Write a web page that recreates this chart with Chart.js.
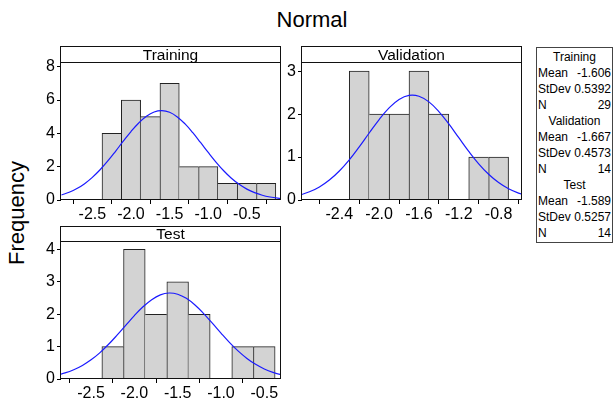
<!DOCTYPE html>
<html><head><meta charset="utf-8">
<script src="https://cdn.jsdelivr.net/npm/chart.js@4/dist/chart.umd.min.js"></script>
<style>
html,body{margin:0;padding:0;background:#fff;}
body{width:615px;height:403px;overflow:hidden;position:relative;font-family:"Liberation Sans",Arial,sans-serif;color:#000;}
canvas{position:absolute;}
#title{position:absolute;left:0;width:624px;top:7px;text-align:center;font-size:22px;line-height:26px;}
#ylab{position:absolute;left:17px;top:213px;transform:translate(-50%,-50%) rotate(-90deg);font-size:22px;line-height:26px;white-space:nowrap;}
#legend{position:absolute;left:536px;top:47px;width:75px;height:193px;border:1px solid #444;font-size:12px;padding-top:1px;}
#legend .h{height:16px;line-height:16px;text-align:center;}
#legend .r{height:16px;line-height:16px;display:flex;justify-content:space-between;padding:0 1px 0 1px;}
</style>
</head><body>
<div id="title">Normal</div>
<div id="ylab">Frequency</div>
<div id="legend"></div>
<canvas id="cTrain" style="left:20px;top:45px;" width="264" height="180"></canvas>
<canvas id="cVal" style="left:270px;top:45px;" width="255" height="180"></canvas>
<canvas id="cTest" style="left:20px;top:225px;" width="264" height="180"></canvas>
<script>
// ---- data ----
const groupNames = ['Training', 'Validation', 'Test'];
const groupMeans = [-1.606, -1.667, -1.589];
const groupStDevs = [0.5392, 0.4573, 0.5257];
const groupNs = [29, 14, 14];

const trainingBins = [-2.25, -2.0, -1.75, -1.5, -1.25, -1.0, -0.75, -0.5, -0.25];
const trainingCounts = [4, 6, 5, 7, 2, 2, 1, 1, 1];
const validationBins = [-2.2, -2.0, -1.8, -1.6, -1.4, -1.2, -1.0, -0.8];
const validationCounts = [3, 2, 2, 3, 2, 0, 1, 1];
const testBins = [-2.25, -2.0, -1.75, -1.5, -1.25, -1.0, -0.75, -0.5];
const testCounts = [1, 4, 2, 3, 2, 0, 1, 1];

const trainingCurveX = [-2.9,-2.8,-2.7,-2.6,-2.5,-2.4,-2.3,-2.2,-2.1,-2.0,-1.9,-1.8,-1.7,-1.6,-1.5,-1.4,-1.3,-1.2,-1.1,-1.0,-0.9,-0.8,-0.7,-0.6,-0.5,-0.4,-0.3,-0.2,-0.1,0.0];
const trainingCurveY = [0.301,0.462,0.685,0.981,1.357,1.814,2.343,2.924,3.526,4.107,4.623,5.028,5.283,5.364,5.262,4.986,4.566,4.040,3.453,2.852,2.276,1.755,1.307,0.941,0.654,0.440,0.285,0.179,0.108,0.064];
const validationCurveX = [-2.8,-2.7,-2.6,-2.5,-2.4,-2.3,-2.2,-2.1,-2.0,-1.9,-1.8,-1.7,-1.6,-1.5,-1.4,-1.3,-1.2,-1.1,-1.0,-0.9,-0.8,-0.7,-0.6,-0.5];
const validationCurveY = [0.114,0.191,0.305,0.465,0.676,0.937,1.239,1.560,1.874,2.146,2.342,2.437,2.417,2.285,2.060,1.770,1.450,1.133,0.843,0.599,0.405,0.261,0.161,0.094];
const testCurveX = [-2.9,-2.8,-2.7,-2.6,-2.5,-2.4,-2.3,-2.2,-2.1,-2.0,-1.9,-1.8,-1.7,-1.6,-1.5,-1.4,-1.3,-1.2,-1.1,-1.0,-0.9,-0.8,-0.7,-0.6,-0.5,-0.4,-0.3,-0.2];
const testCurveY = [0.119,0.187,0.285,0.418,0.592,0.808,1.064,1.352,1.656,1.957,2.230,2.450,2.598,2.655,2.618,2.490,2.284,2.020,1.723,1.418,1.125,0.861,0.636,0.453,0.311,0.206,0.131,0.081];

const trainingXTicks = [-2.5, -2.0, -1.5, -1.0, -0.5];
const trainingYTicks = [0, 2, 4, 6, 8];
const validationXTicks = [-2.4, -2.0, -1.6, -1.2, -0.8];
const validationYTicks = [0, 1, 2, 3];
const testXTicks = [-2.5, -2.0, -1.5, -1.0, -0.5];
const testYTicks = [0, 1, 2, 3, 4];

// ---- legend ----
(function(){
  const lg = document.getElementById('legend');
  groupNames.forEach((g, i) => {
    const h = document.createElement('div'); h.className = 'h'; h.textContent = g; lg.appendChild(h);
    [['Mean', groupMeans[i].toFixed(3)], ['StDev', groupStDevs[i].toFixed(4)], ['N', String(groupNs[i])]].forEach(p => {
      const r = document.createElement('div'); r.className = 'r';
      const a = document.createElement('span'); a.textContent = p[0];
      const b = document.createElement('span'); b.textContent = p[1];
      r.appendChild(a); r.appendChild(b); lg.appendChild(r);
    });
  });
})();

Chart.defaults.font.family = "'Liberation Sans', Arial, sans-serif";
Chart.defaults.color = '#000';
Chart.defaults.animation = false;

const framePlugin = {
  id: 'frame',
  afterDraw(chart, args, opts) {
    const ctx = chart.ctx, a = chart.chartArea;
    const l = Math.round(a.left) - 0.5, r = Math.round(a.right) - 0.5;
    const t = opts.top + 0.5, hb = Math.round(a.top) - 0.5, b = Math.round(a.bottom) - 0.5;
    ctx.save();
    ctx.strokeStyle = '#111';
    ctx.lineWidth = 1;
    ctx.strokeRect(l, t, r - l, b - t);
    ctx.beginPath(); ctx.moveTo(l, hb); ctx.lineTo(r, hb); ctx.stroke();
    ctx.fillStyle = '#000';
    ctx.font = "15.5px 'Liberation Sans', Arial, sans-serif";
    ctx.textAlign = 'center'; ctx.textBaseline = 'middle';
    ctx.fillText(opts.text, (l + r) / 2, (t + hb) / 2 + 1);
    ctx.restore();
  }
};

function makePanel(id, name, bins, counts, cx, cy, xTicks, yTicks, xmin, xmax, ymax, yAxisW, xAxisH, padTop, padRight, headTop) {
  const tickFont = {size: 16};
  new Chart(document.getElementById(id), {
    type: 'bar',
    data: {
      datasets: [
        {
          type: 'line', order: 0,
          data: cx.map((x, i) => ({x: x, y: cy[i]})),
          borderColor: '#1a1aff', borderWidth: 1.2, pointRadius: 0, tension: 0.4, fill: false
        },
        {
          type: 'bar', order: 1,
          data: bins.map((x, i) => ({x: x, y: counts[i]})),
          backgroundColor: '#d3d3d3', borderColor: '#222',
          barPercentage: 1, categoryPercentage: 1, grouped: false,
          borderSkipped: false,
          borderWidth: (c) => {
            const i = c.dataIndex, v = counts[i];
            if (!v) return 0;
            const prev = i > 0 ? counts[i - 1] : 0;
            const next = i < counts.length - 1 ? counts[i + 1] : 0;
            return {top: 1, bottom: 0, left: (prev <= v) ? 1 : 0, right: (next < v) ? 1 : 0};
          }
        }
      ]
    },
    options: {
      responsive: false, maintainAspectRatio: false,
      layout: {padding: {top: padTop, right: padRight, left: 0, bottom: 0}},
      plugins: {legend: {display: false}, tooltip: {enabled: false}, frame: {text: name, top: headTop}},
      scales: {
        x: {
          type: 'linear', min: xmin, max: xmax, offset: false,
          afterBuildTicks: s => { s.ticks = xTicks.map(v => ({value: v})); },
          afterFit: s => { s.height = xAxisH; },
          ticks: {font: tickFont, color: '#000', padding: 1, maxRotation: 0, autoSkip: false, callback: v => Number(v).toFixed(1)},
          grid: {display: true, drawOnChartArea: false, drawTicks: true, tickLength: 4, color: '#000'},
          border: {display: false}
        },
        y: {
          type: 'linear', min: 0, max: ymax,
          afterBuildTicks: s => { s.ticks = yTicks.map(v => ({value: v})); },
          afterFit: s => { s.width = yAxisW; },
          ticks: {font: tickFont, color: '#000', padding: 2, callback: v => String(v)},
          grid: {display: true, drawOnChartArea: false, drawTicks: true, tickLength: 4, color: '#000'},
          border: {display: false}
        }
      }
    },
    plugins: [framePlugin]
  });
}

makePanel('cTrain', 'Training', trainingBins, trainingCounts, trainingCurveX, trainingCurveY,
  trainingXTicks, trainingYTicks, -2.906, -0.058, 8.22, 41, 25, 18, 3, 1);
makePanel('cVal', 'Validation', validationBins, validationCounts, validationCurveX, validationCurveY,
  validationXTicks, validationYTicks, -2.775, -0.565, 3.19, 32, 25, 18, 3, 1);
makePanel('cTest', 'Test', testBins, testCounts, testCurveX, testCurveY,
  testXTicks, testYTicks, -2.847, -0.307, 4.23, 41, 26, 17, 3, 1);
</script>
</body></html>
